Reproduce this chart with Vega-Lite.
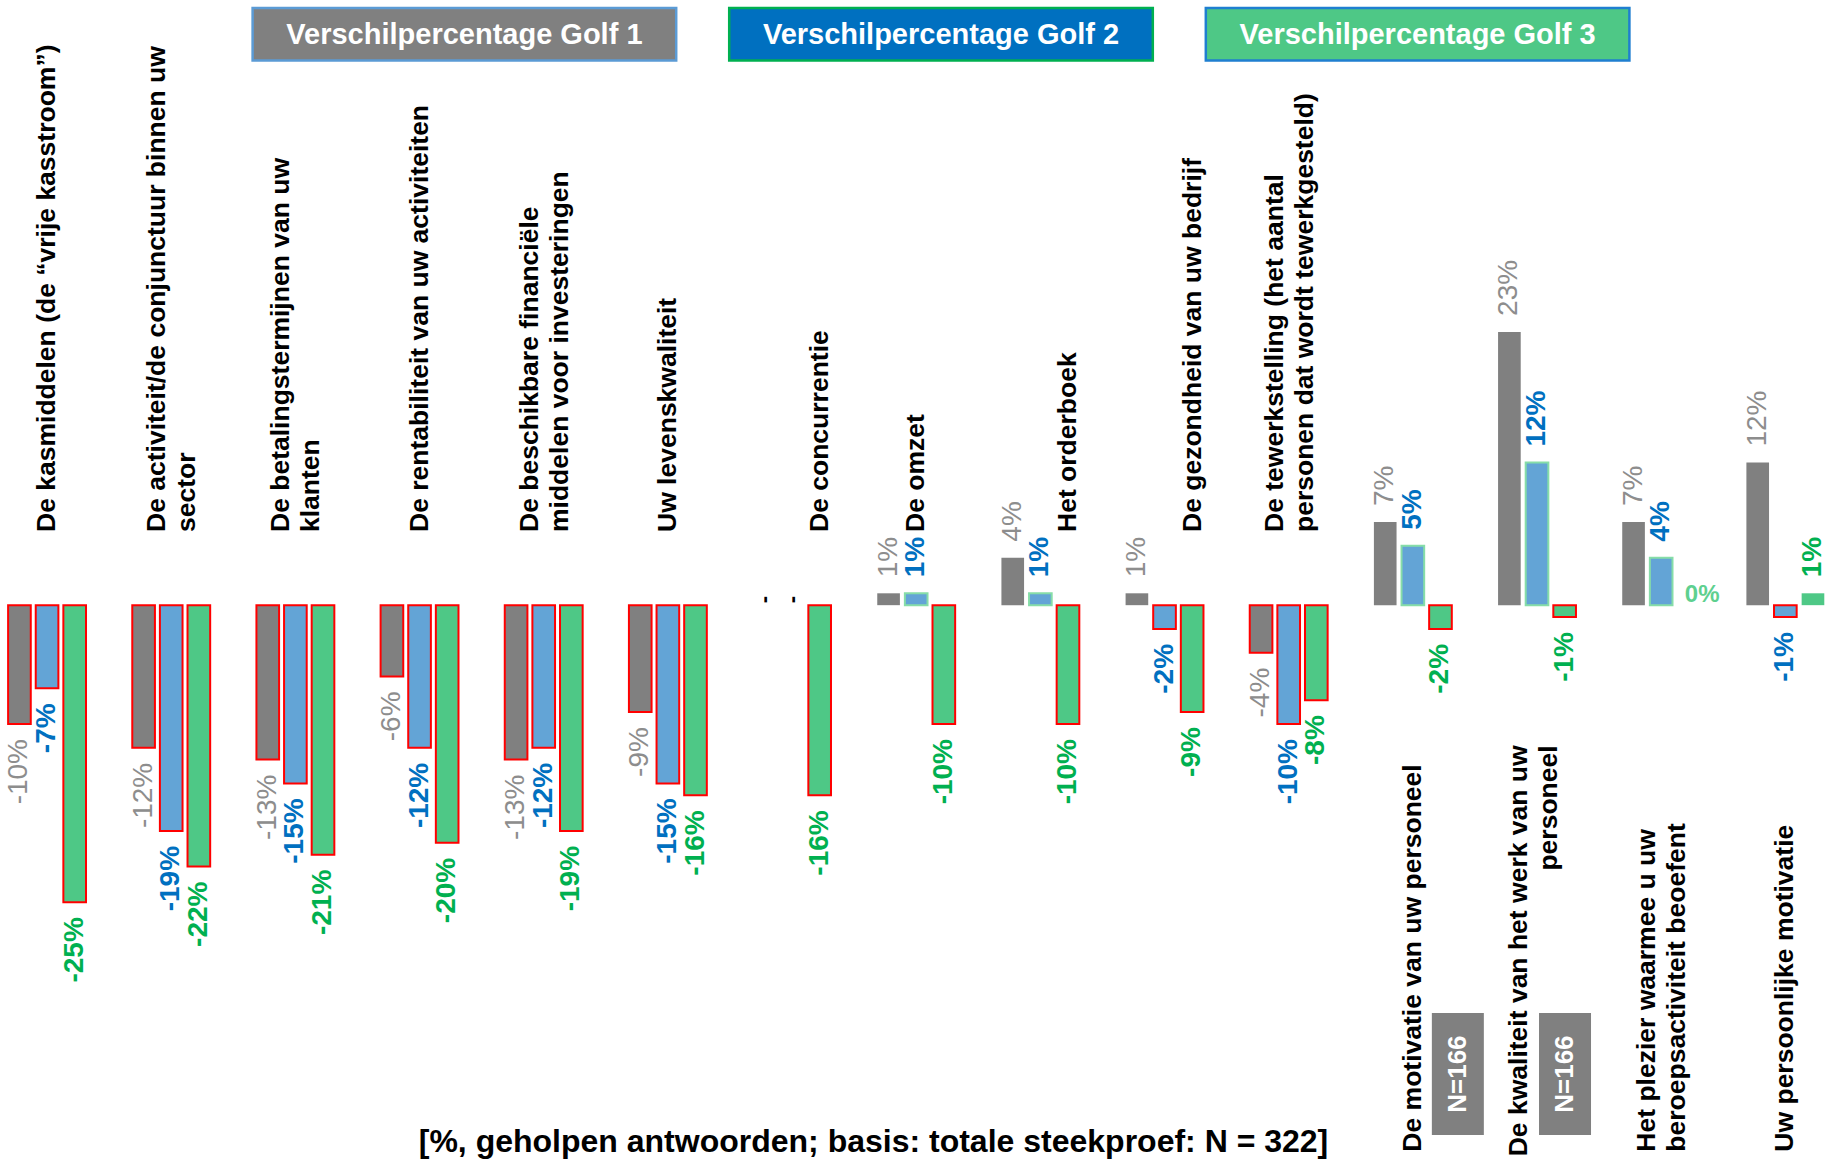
{
  "$schema": "https://vega.github.io/schema/vega-lite/v6.json",
  "width": 1825,
  "height": 1162,
  "padding": 0,
  "autosize": {"type": "none"},
  "background": "white",
  "config": {"view": {"stroke": null}, "font": "Liberation Sans", "text": {"font": "Liberation Sans"}},
  "title": {
    "text": "[%, geholpen antwoorden; basis: totale steekproef: N = 322]",
    "orient": "bottom", "anchor": "middle", "offset": -35, "dx": -39,
    "fontSize": 32, "fontWeight": "bold", "font": "Liberation Sans", "color": "#000000"
  },
  "datasets": {
    "hdr": [
      {"series": "Verschilpercentage Golf 1"},
      {"series": "Verschilpercentage Golf 2"},
      {"series": "Verschilpercentage Golf 3"}
    ],
    "bars": [
      {"cat": "De kasmiddelen (de “vrije kasstroom”)", "series": "Verschilpercentage Golf 1", "value": -10, "label": "-10%"},
      {"cat": "De kasmiddelen (de “vrije kasstroom”)", "series": "Verschilpercentage Golf 2", "value": -7, "label": "-7%"},
      {"cat": "De kasmiddelen (de “vrije kasstroom”)", "series": "Verschilpercentage Golf 3", "value": -25, "label": "-25%"},
      {"cat": "De activiteit/de conjunctuur binnen uw sector", "series": "Verschilpercentage Golf 1", "value": -12, "label": "-12%"},
      {"cat": "De activiteit/de conjunctuur binnen uw sector", "series": "Verschilpercentage Golf 2", "value": -19, "label": "-19%"},
      {"cat": "De activiteit/de conjunctuur binnen uw sector", "series": "Verschilpercentage Golf 3", "value": -22, "label": "-22%"},
      {"cat": "De betalingstermijnen van uw klanten", "series": "Verschilpercentage Golf 1", "value": -13, "label": "-13%"},
      {"cat": "De betalingstermijnen van uw klanten", "series": "Verschilpercentage Golf 2", "value": -15, "label": "-15%"},
      {"cat": "De betalingstermijnen van uw klanten", "series": "Verschilpercentage Golf 3", "value": -21, "label": "-21%"},
      {"cat": "De rentabiliteit van uw activiteiten", "series": "Verschilpercentage Golf 1", "value": -6, "label": "-6%"},
      {"cat": "De rentabiliteit van uw activiteiten", "series": "Verschilpercentage Golf 2", "value": -12, "label": "-12%"},
      {"cat": "De rentabiliteit van uw activiteiten", "series": "Verschilpercentage Golf 3", "value": -20, "label": "-20%"},
      {"cat": "De beschikbare financiële middelen voor investeringen", "series": "Verschilpercentage Golf 1", "value": -13, "label": "-13%"},
      {"cat": "De beschikbare financiële middelen voor investeringen", "series": "Verschilpercentage Golf 2", "value": -12, "label": "-12%"},
      {"cat": "De beschikbare financiële middelen voor investeringen", "series": "Verschilpercentage Golf 3", "value": -19, "label": "-19%"},
      {"cat": "Uw levenskwaliteit", "series": "Verschilpercentage Golf 1", "value": -9, "label": "-9%"},
      {"cat": "Uw levenskwaliteit", "series": "Verschilpercentage Golf 2", "value": -15, "label": "-15%"},
      {"cat": "Uw levenskwaliteit", "series": "Verschilpercentage Golf 3", "value": -16, "label": "-16%"},
      {"cat": "De concurrentie", "series": "Verschilpercentage Golf 1", "value": null, "label": "-"},
      {"cat": "De concurrentie", "series": "Verschilpercentage Golf 2", "value": null, "label": "-"},
      {"cat": "De concurrentie", "series": "Verschilpercentage Golf 3", "value": -16, "label": "-16%"},
      {"cat": "De omzet", "series": "Verschilpercentage Golf 1", "value": 1, "label": "1%"},
      {"cat": "De omzet", "series": "Verschilpercentage Golf 2", "value": 1, "label": "1%"},
      {"cat": "De omzet", "series": "Verschilpercentage Golf 3", "value": -10, "label": "-10%"},
      {"cat": "Het orderboek", "series": "Verschilpercentage Golf 1", "value": 4, "label": "4%"},
      {"cat": "Het orderboek", "series": "Verschilpercentage Golf 2", "value": 1, "label": "1%"},
      {"cat": "Het orderboek", "series": "Verschilpercentage Golf 3", "value": -10, "label": "-10%"},
      {"cat": "De gezondheid van uw bedrijf", "series": "Verschilpercentage Golf 1", "value": 1, "label": "1%"},
      {"cat": "De gezondheid van uw bedrijf", "series": "Verschilpercentage Golf 2", "value": -2, "label": "-2%"},
      {"cat": "De gezondheid van uw bedrijf", "series": "Verschilpercentage Golf 3", "value": -9, "label": "-9%"},
      {"cat": "De tewerkstelling (het aantal personen dat wordt tewerkgesteld)", "series": "Verschilpercentage Golf 1", "value": -4, "label": "-4%"},
      {"cat": "De tewerkstelling (het aantal personen dat wordt tewerkgesteld)", "series": "Verschilpercentage Golf 2", "value": -10, "label": "-10%"},
      {"cat": "De tewerkstelling (het aantal personen dat wordt tewerkgesteld)", "series": "Verschilpercentage Golf 3", "value": -8, "label": "-8%"},
      {"cat": "De motivatie van uw personeel", "series": "Verschilpercentage Golf 1", "value": 7, "label": "7%"},
      {"cat": "De motivatie van uw personeel", "series": "Verschilpercentage Golf 2", "value": 5, "label": "5%"},
      {"cat": "De motivatie van uw personeel", "series": "Verschilpercentage Golf 3", "value": -2, "label": "-2%"},
      {"cat": "De kwaliteit van het werk van uw personeel", "series": "Verschilpercentage Golf 1", "value": 23, "label": "23%"},
      {"cat": "De kwaliteit van het werk van uw personeel", "series": "Verschilpercentage Golf 2", "value": 12, "label": "12%"},
      {"cat": "De kwaliteit van het werk van uw personeel", "series": "Verschilpercentage Golf 3", "value": -1, "label": "-1%"},
      {"cat": "Het plezier waarmee u uw beroepsactiviteit beoefent", "series": "Verschilpercentage Golf 1", "value": 7, "label": "7%"},
      {"cat": "Het plezier waarmee u uw beroepsactiviteit beoefent", "series": "Verschilpercentage Golf 2", "value": 4, "label": "4%"},
      {"cat": "Het plezier waarmee u uw beroepsactiviteit beoefent", "series": "Verschilpercentage Golf 3", "value": 0, "label": "0%"},
      {"cat": "Uw persoonlijke motivatie", "series": "Verschilpercentage Golf 1", "value": 12, "label": "12%"},
      {"cat": "Uw persoonlijke motivatie", "series": "Verschilpercentage Golf 2", "value": -1, "label": "-1%"},
      {"cat": "Uw persoonlijke motivatie", "series": "Verschilpercentage Golf 3", "value": 1, "label": "1%"}
    ],
    "cats": [
      {"cat": "De kasmiddelen (de “vrije kasstroom”)", "label": "De kasmiddelen (de “vrije kasstroom”)"},
      {"cat": "De activiteit/de conjunctuur binnen uw sector", "label": "De activiteit/de conjunctuur binnen uw\nsector"},
      {"cat": "De betalingstermijnen van uw klanten", "label": "De betalingstermijnen van uw\nklanten"},
      {"cat": "De rentabiliteit van uw activiteiten", "label": "De rentabiliteit van uw activiteiten"},
      {"cat": "De beschikbare financiële middelen voor investeringen", "label": "De beschikbare financiële\nmiddelen voor investeringen"},
      {"cat": "Uw levenskwaliteit", "label": "Uw levenskwaliteit"},
      {"cat": "De concurrentie", "label": "De concurrentie"},
      {"cat": "De omzet", "label": "De omzet"},
      {"cat": "Het orderboek", "label": "Het orderboek"},
      {"cat": "De gezondheid van uw bedrijf", "label": "De gezondheid van uw bedrijf"},
      {"cat": "De tewerkstelling (het aantal personen dat wordt tewerkgesteld)", "label": "De tewerkstelling (het aantal\npersonen dat wordt tewerkgesteld)"},
      {"cat": "De motivatie van uw personeel", "label": "De motivatie van uw personeel"},
      {"cat": "De kwaliteit van het werk van uw personeel", "label": "De kwaliteit van het werk van uw\npersoneel"},
      {"cat": "Het plezier waarmee u uw beroepsactiviteit beoefent", "label": "Het plezier waarmee u uw\nberoepsactiviteit beoefent"},
      {"cat": "Uw persoonlijke motivatie", "label": "Uw persoonlijke motivatie"}
    ],
    "notes": [
      {"cat": "De motivatie van uw personeel", "note": "N=166"},
      {"cat": "De kwaliteit van het werk van uw personeel", "note": "N=166"}
    ]
  },
  "layer": [
    {
      "data": {"name": "hdr"},
      "encoding": {
        "x": {"field": "series", "type": "nominal", "axis": null,
              "scale": {"type": "band", "domain": ["Verschilpercentage Golf 1", "Verschilpercentage Golf 2", "Verschilpercentage Golf 3"], "paddingInner": 0.1112, "paddingOuter": 0.4702, "align": 0.5636}}
      },
      "layer": [
        {
          "mark": {"type": "rect", "strokeWidth": 2.5},
          "encoding": {
            "y": {"datum": 50.26, "type": "quantitative", "axis": null, "scale": {"domain": [-46.87, 50.94], "nice": false, "zero": false}},
            "y2": {"datum": 45.85},
            "fill": {"field": "series", "type": "nominal", "legend": null,
                     "scale": {"domain": ["Verschilpercentage Golf 1", "Verschilpercentage Golf 2", "Verschilpercentage Golf 3"], "range": ["#808080", "#0070C0", "#4EC886"]}},
            "stroke": {"field": "series", "type": "nominal", "legend": null,
                       "scale": {"domain": ["Verschilpercentage Golf 1", "Verschilpercentage Golf 2", "Verschilpercentage Golf 3"], "range": ["#5B9BD5", "#00B050", "#1F7FD0"]}}
          }
        },
        {
          "mark": {"type": "text", "fontSize": 29, "fontWeight": "bold", "color": "#FFFFFF", "align": "center", "baseline": "middle"},
          "encoding": {
            "y": {"datum": 48.0, "type": "quantitative", "axis": null, "scale": {"domain": [-46.87, 50.94], "nice": false, "zero": false}},
            "text": {"field": "series"}
          }
        }
      ]
    },
    {
      "encoding": {
        "x": {"field": "cat", "type": "nominal", "axis": null,
              "scale": {"type": "band", "domain": [
                "De kasmiddelen (de “vrije kasstroom”)",
                "De activiteit/de conjunctuur binnen uw sector",
                "De betalingstermijnen van uw klanten",
                "De rentabiliteit van uw activiteiten",
                "De beschikbare financiële middelen voor investeringen",
                "Uw levenskwaliteit",
                "De concurrentie",
                "De omzet",
                "Het orderboek",
                "De gezondheid van uw bedrijf",
                "De tewerkstelling (het aantal personen dat wordt tewerkgesteld)",
                "De motivatie van uw personeel",
                "De kwaliteit van het werk van uw personeel",
                "Het plezier waarmee u uw beroepsactiviteit beoefent",
                "Uw persoonlijke motivatie"
              ], "paddingInner": 0.3726, "paddingOuter": 0.0355, "align": 0.92}}
      },
      "layer": [
        {
          "data": {"name": "bars"},
          "mark": {"type": "bar", "strokeWidth": 2},
          "encoding": {
            "xOffset": {"field": "series", "type": "nominal", "scale": {"domain": ["Verschilpercentage Golf 1", "Verschilpercentage Golf 2", "Verschilpercentage Golf 3"], "paddingInner": 0.18, "paddingOuter": 0}},
            "y": {"field": "value", "type": "quantitative", "stack": null, "axis": null, "scale": {"domain": [-46.87, 50.94], "nice": false, "zero": false}},
            "y2": {"datum": 0},
            "fill": {"field": "series", "type": "nominal", "legend": null,
                     "scale": {"domain": ["Verschilpercentage Golf 1", "Verschilpercentage Golf 2", "Verschilpercentage Golf 3"], "range": ["#808080", "#63A4D6", "#4EC886"]}},
            "stroke": {"condition": [
              {"test": "datum.value < 0", "value": "#FF0000"},
              {"test": "datum.value > 0 && datum.series == 'Verschilpercentage Golf 2'", "value": "#86DDA8"}
            ], "value": "transparent"}
          }
        },
        {
          "data": {"name": "bars"},
          "transform": [{"filter": "datum.value < 0 && datum.series == 'Verschilpercentage Golf 1'"}],
          "mark": {"type": "text", "angle": 270, "align": "right", "baseline": "middle", "dx": -15, "fontSize": 28, "color": "#8D8D8D"},
          "encoding": {
            "xOffset": {"field": "series", "type": "nominal", "scale": {"domain": ["Verschilpercentage Golf 1", "Verschilpercentage Golf 2", "Verschilpercentage Golf 3"], "paddingInner": 0.18, "paddingOuter": 0}},
            "y": {"field": "value", "type": "quantitative", "stack": null, "axis": null, "scale": {"domain": [-46.87, 50.94], "nice": false, "zero": false}},
            "text": {"field": "label"}
          }
        },
        {
          "data": {"name": "bars"},
          "transform": [{"filter": "datum.value < 0 && datum.series != 'Verschilpercentage Golf 1'"}],
          "mark": {"type": "text", "angle": 270, "align": "right", "baseline": "middle", "dx": -15, "fontSize": 28, "fontWeight": "bold"},
          "encoding": {
            "xOffset": {"field": "series", "type": "nominal", "scale": {"domain": ["Verschilpercentage Golf 1", "Verschilpercentage Golf 2", "Verschilpercentage Golf 3"], "paddingInner": 0.18, "paddingOuter": 0}},
            "y": {"field": "value", "type": "quantitative", "stack": null, "axis": null, "scale": {"domain": [-46.87, 50.94], "nice": false, "zero": false}},
            "color": {"field": "series", "type": "nominal", "legend": null,
                      "scale": {"domain": ["Verschilpercentage Golf 2", "Verschilpercentage Golf 3"], "range": ["#0070C0", "#00B050"]}},
            "text": {"field": "label"}
          }
        },
        {
          "data": {"name": "bars"},
          "transform": [{"filter": "datum.value > 0 && datum.series == 'Verschilpercentage Golf 1'"}],
          "mark": {"type": "text", "angle": 270, "align": "left", "baseline": "middle", "dx": 16, "fontSize": 28, "color": "#8D8D8D"},
          "encoding": {
            "xOffset": {"field": "series", "type": "nominal", "scale": {"domain": ["Verschilpercentage Golf 1", "Verschilpercentage Golf 2", "Verschilpercentage Golf 3"], "paddingInner": 0.18, "paddingOuter": 0}},
            "y": {"field": "value", "type": "quantitative", "stack": null, "axis": null, "scale": {"domain": [-46.87, 50.94], "nice": false, "zero": false}},
            "text": {"field": "label"}
          }
        },
        {
          "data": {"name": "bars"},
          "transform": [{"filter": "datum.value > 0 && datum.series != 'Verschilpercentage Golf 1'"}],
          "mark": {"type": "text", "angle": 270, "align": "left", "baseline": "middle", "dx": 16, "fontSize": 28, "fontWeight": "bold"},
          "encoding": {
            "xOffset": {"field": "series", "type": "nominal", "scale": {"domain": ["Verschilpercentage Golf 1", "Verschilpercentage Golf 2", "Verschilpercentage Golf 3"], "paddingInner": 0.18, "paddingOuter": 0}},
            "y": {"field": "value", "type": "quantitative", "stack": null, "axis": null, "scale": {"domain": [-46.87, 50.94], "nice": false, "zero": false}},
            "color": {"field": "series", "type": "nominal", "legend": null,
                      "scale": {"domain": ["Verschilpercentage Golf 2", "Verschilpercentage Golf 3"], "range": ["#0070C0", "#00B050"]}},
            "text": {"field": "label"}
          }
        },
        {
          "data": {"name": "bars"},
          "transform": [{"filter": "datum.value === 0"}],
          "mark": {"type": "text", "angle": 0, "align": "left", "baseline": "bottom", "dx": -4, "dy": 2, "fontSize": 24, "fontWeight": "bold", "color": "#5ED08F"},
          "encoding": {
            "xOffset": {"field": "series", "type": "nominal", "scale": {"domain": ["Verschilpercentage Golf 1", "Verschilpercentage Golf 2", "Verschilpercentage Golf 3"], "paddingInner": 0.18, "paddingOuter": 0}},
            "y": {"field": "value", "type": "quantitative", "stack": null, "axis": null, "scale": {"domain": [-46.87, 50.94], "nice": false, "zero": false}},
            "text": {"field": "label"}
          }
        },
        {
          "data": {"name": "bars"},
          "transform": [{"filter": "!isValid(datum.value)"}],
          "mark": {"type": "text", "angle": 270, "align": "left", "baseline": "middle", "dx": 2, "fontSize": 22, "fontWeight": "bold", "color": "#000000"},
          "encoding": {
            "xOffset": {"field": "series", "type": "nominal", "scale": {"domain": ["Verschilpercentage Golf 1", "Verschilpercentage Golf 2", "Verschilpercentage Golf 3"], "paddingInner": 0.18, "paddingOuter": 0}},
            "y": {"datum": 0, "type": "quantitative", "axis": null, "scale": {"domain": [-46.87, 50.94], "nice": false, "zero": false}},
            "text": {"field": "label"}
          }
        },
        {
          "data": {"name": "cats"},
          "transform": [{"filter": "indexof(['De motivatie van uw personeel','De kwaliteit van het werk van uw personeel','Het plezier waarmee u uw beroepsactiviteit beoefent','Uw persoonlijke motivatie','De concurrentie','Het orderboek','De gezondheid van uw bedrijf'], datum.cat) < 0 && indexof(datum.label, '\\n') < 0"}],
          "mark": {"type": "text", "angle": 270, "align": "left", "baseline": "middle", "fontSize": 26.5, "fontWeight": "bold", "color": "#000000", "lineBreak": "\n", "lineHeight": 30},
          "encoding": {
            "y": {"datum": 6.16, "type": "quantitative", "axis": null, "scale": {"domain": [-46.87, 50.94], "nice": false, "zero": false}},
            "text": {"field": "label"}
          }
        },
        {
          "data": {"name": "cats"},
          "transform": [{"filter": "indexof(['De motivatie van uw personeel','De kwaliteit van het werk van uw personeel','Het plezier waarmee u uw beroepsactiviteit beoefent','Uw persoonlijke motivatie'], datum.cat) < 0 && indexof(datum.label, '\\n') >= 0"}],
          "mark": {"type": "text", "angle": 270, "align": "left", "baseline": "middle", "dy": -14, "fontSize": 26.5, "fontWeight": "bold", "color": "#000000", "lineBreak": "\n", "lineHeight": 30},
          "encoding": {
            "y": {"datum": 6.16, "type": "quantitative", "axis": null, "scale": {"domain": [-46.87, 50.94], "nice": false, "zero": false}},
            "text": {"field": "label"}
          }
        },
        {
          "data": {"name": "cats"},
          "transform": [{"filter": "indexof(['De concurrentie','Het orderboek','De gezondheid van uw bedrijf'], datum.cat) >= 0"}],
          "mark": {"type": "text", "angle": 270, "align": "left", "baseline": "middle", "dy": 28, "fontSize": 26.5, "fontWeight": "bold", "color": "#000000", "lineBreak": "\n", "lineHeight": 30},
          "encoding": {
            "y": {"datum": 6.16, "type": "quantitative", "axis": null, "scale": {"domain": [-46.87, 50.94], "nice": false, "zero": false}},
            "text": {"field": "label"}
          }
        },
        {
          "data": {"name": "cats"},
          "transform": [{"filter": "indexof(['De motivatie van uw personeel','Uw persoonlijke motivatie'], datum.cat) >= 0"}],
          "mark": {"type": "text", "angle": 270, "align": "left", "baseline": "middle", "fontSize": 26.5, "fontWeight": "bold", "color": "#000000", "lineBreak": "\n", "lineHeight": 30},
          "encoding": {
            "y": {"datum": -46.0, "type": "quantitative", "axis": null, "scale": {"domain": [-46.87, 50.94], "nice": false, "zero": false}},
            "text": {"field": "label"}
          }
        },
        {
          "data": {"name": "cats"},
          "transform": [{"filter": "datum.cat == 'Het plezier waarmee u uw beroepsactiviteit beoefent'"}],
          "mark": {"type": "text", "angle": 270, "align": "left", "baseline": "middle", "dy": -14, "fontSize": 26.5, "fontWeight": "bold", "color": "#000000", "lineBreak": "\n", "lineHeight": 30},
          "encoding": {
            "y": {"datum": -46.0, "type": "quantitative", "axis": null, "scale": {"domain": [-46.87, 50.94], "nice": false, "zero": false}},
            "text": {"field": "label"}
          }
        },
        {
          "data": {"name": "cats"},
          "transform": [{"filter": "datum.cat == 'De kwaliteit van het werk van uw personeel'"}],
          "mark": {"type": "text", "angle": 270, "align": "right", "baseline": "middle", "dy": -18, "fontSize": 26.5, "fontWeight": "bold", "color": "#000000", "lineBreak": "\n", "lineHeight": 30},
          "encoding": {
            "y": {"datum": -11.8, "type": "quantitative", "axis": null, "scale": {"domain": [-46.87, 50.94], "nice": false, "zero": false}},
            "text": {"field": "label"}
          }
        },
        {
          "data": {"name": "notes"},
          "transform": [{"filter": "datum.cat == 'De motivatie van uw personeel'"}],
          "mark": {"type": "bar", "width": 52, "xOffset": 45, "color": "#808080"},
          "encoding": {
            "y": {"datum": -34.33, "type": "quantitative", "axis": null, "scale": {"domain": [-46.87, 50.94], "nice": false, "zero": false}},
            "y2": {"datum": -44.6}
          }
        },
        {
          "data": {"name": "notes"},
          "transform": [{"filter": "datum.cat == 'De motivatie van uw personeel'"}],
          "mark": {"type": "text", "angle": 270, "align": "center", "baseline": "middle", "xOffset": 45, "fontSize": 26, "fontWeight": "bold", "color": "#FFFFFF"},
          "encoding": {
            "y": {"datum": -39.47, "type": "quantitative", "axis": null, "scale": {"domain": [-46.87, 50.94], "nice": false, "zero": false}},
            "text": {"field": "note"}
          }
        },
        {
          "data": {"name": "notes"},
          "transform": [{"filter": "datum.cat == 'De kwaliteit van het werk van uw personeel'"}],
          "mark": {"type": "bar", "width": 52, "xOffset": 28, "color": "#808080"},
          "encoding": {
            "y": {"datum": -34.33, "type": "quantitative", "axis": null, "scale": {"domain": [-46.87, 50.94], "nice": false, "zero": false}},
            "y2": {"datum": -44.6}
          }
        },
        {
          "data": {"name": "notes"},
          "transform": [{"filter": "datum.cat == 'De kwaliteit van het werk van uw personeel'"}],
          "mark": {"type": "text", "angle": 270, "align": "center", "baseline": "middle", "xOffset": 28, "fontSize": 26, "fontWeight": "bold", "color": "#FFFFFF"},
          "encoding": {
            "y": {"datum": -39.47, "type": "quantitative", "axis": null, "scale": {"domain": [-46.87, 50.94], "nice": false, "zero": false}},
            "text": {"field": "note"}
          }
        }
      ]
    }
  ],
  "resolve": {"scale": {"x": "independent", "fill": "independent", "stroke": "independent", "color": "independent"}}
}
